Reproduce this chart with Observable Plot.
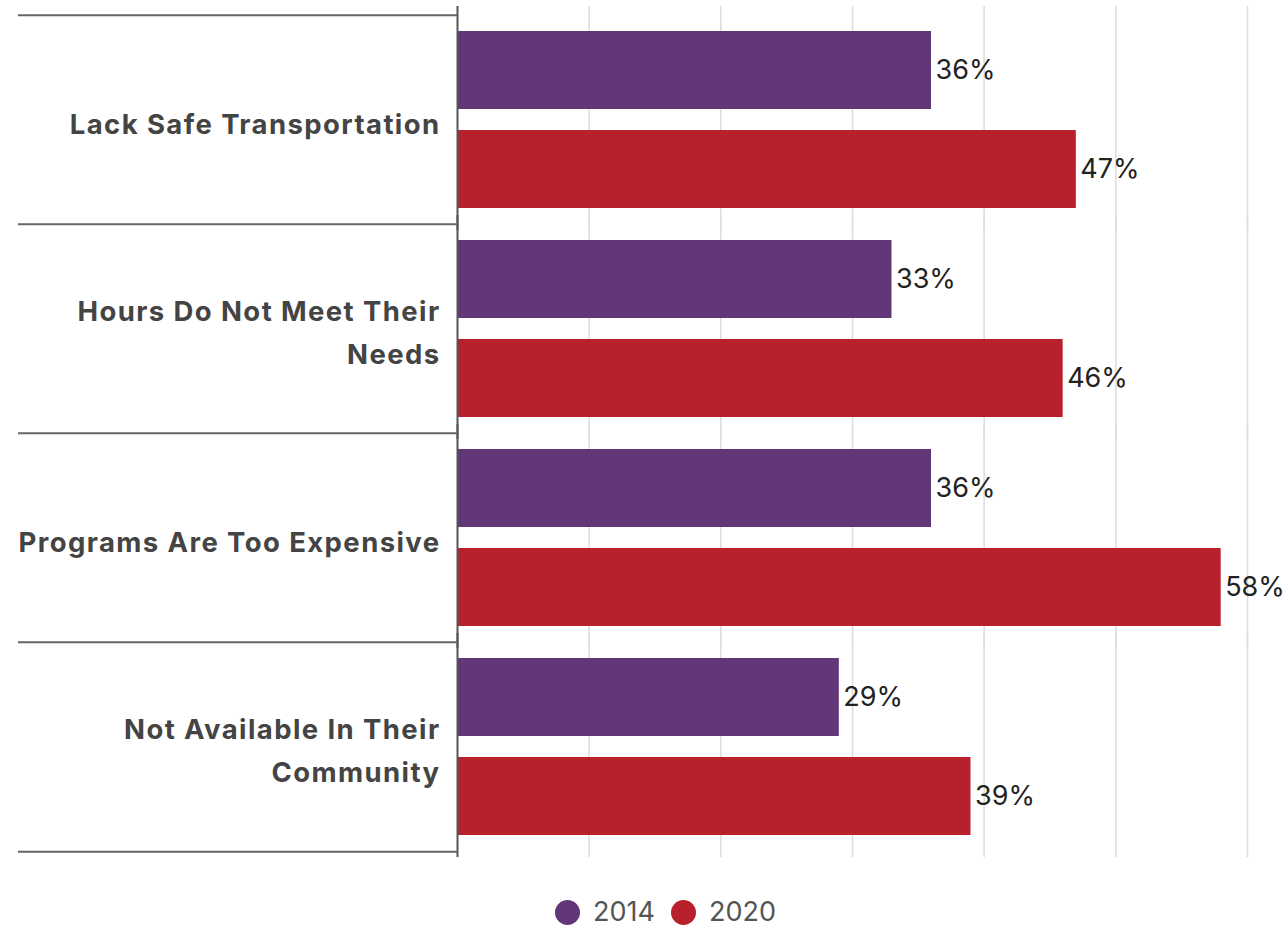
<!DOCTYPE html>
<html>
<head>
<meta charset="utf-8">
<script src="https://cdn.jsdelivr.net/npm/d3@7"></script>
<script src="https://cdn.jsdelivr.net/npm/@observablehq/plot@0.6"></script>
<style>
  html, body { margin: 0; background: #fff; font-family: Inter, "Open Sans", sans-serif; overflow: hidden; }
  #legend { display: flex; align-items: center; margin-left: 555px; margin-top: 28px; line-height: 28px; }
  .item { display: flex; align-items: center; font-size: 27px; color: #555; margin-right: 16px; }
  .sw { width: 25px; height: 25px; border-radius: 50%; margin-right: 13px; }
</style>
</head>
<body>
<div id="chart"></div>
<div id="legend"></div>
<script>
const categories = ["Lack Safe Transportation", "Hours Do Not Meet Their Needs", "Programs Are Too Expensive", "Not Available In Their Community"];
const categoryLabels = ["Lack Safe Transportation", "Hours Do Not Meet Their\nNeeds", "Programs Are Too Expensive", "Not Available In Their\nCommunity"];
const series = ["2014", "2020"];
const values2014 = [36, 33, 36, 29];
const values2020 = [47, 46, 58, 39];
const seriesColors = ["#613777", "#B8202B"];
const gridTicks = [10, 20, 30, 40, 50, 60];

const data = [];
categories.forEach((c, i) => {
  data.push({category: c, series: "2014", value: values2014[i]});
  data.push({category: c, series: "2020", value: values2020[i]});
});
const labelRows = categories.map((c, i) => ({category: c, label: categoryLabels[i]}));

const W = 1288, H = 870, mt = 14, mb = 18, ml = 457, mr = 41;
const band = (H - mt - mb) / categories.length;

const chart = Plot.plot({
  width: W, height: H,
  marginTop: mt, marginBottom: mb, marginLeft: ml, marginRight: mr,
  x: {domain: [0, 60], axis: null},
  y: {domain: series, axis: null, paddingInner: 0.211, paddingOuter: 0.158},
  fy: {domain: categories, axis: null, padding: 0},
  color: {domain: series, range: seriesColors},
  style: {fontFamily: "Inter, 'Open Sans', sans-serif"},
  marks: [
    Plot.ruleX(gridTicks, {stroke: "#dcdcdc", strokeWidth: 1.5, insetTop: -9, insetBottom: -6}),
    Plot.barX(data, {fy: "category", y: "series", x: "value", fill: "series"}),
    Plot.ruleX([0], {stroke: "#555", strokeWidth: 2, insetTop: -9, insetBottom: -6}),
    Plot.ruleY(categories, {fy: d => d, y: null, dy: -band / 2, stroke: "#666", strokeWidth: 2, insetLeft: -(ml - 18), insetRight: W - ml - mr}),
    Plot.ruleY(categories.slice(-1), {fy: d => d, y: null, dy: band / 2, stroke: "#666", strokeWidth: 2, insetLeft: -(ml - 18), insetRight: W - ml - mr}),
    Plot.text(labelRows, {fy: "category", text: "label", frameAnchor: "left", dx: -17, textAnchor: "end", fontSize: 27.5, fontWeight: 700, fill: "#444", lineHeight: 1.56}),
    Plot.text(data, {fy: "category", y: "series", x: "value", text: d => d.value + "%", textAnchor: "start", dx: 4, fontSize: 27, fill: "#222"})
  ]
});
d3.select(chart).selectAll('g[font-weight="700"]').attr("letter-spacing", "1.4px");
document.getElementById("chart").appendChild(chart);

const legend = document.getElementById("legend");
series.forEach((s, i) => {
  const item = document.createElement("div");
  item.className = "item";
  const sw = document.createElement("div");
  sw.className = "sw";
  sw.style.background = seriesColors[i];
  const t = document.createElement("span");
  t.textContent = s;
  item.appendChild(sw);
  item.appendChild(t);
  legend.appendChild(item);
});
</script>
</body>
</html>
